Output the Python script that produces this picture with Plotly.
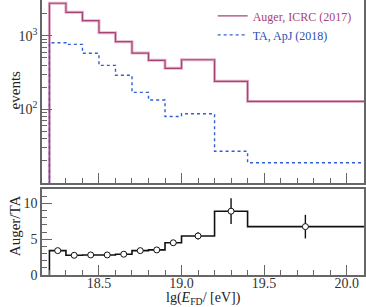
import plotly.graph_objects as go
from plotly.subplots import make_subplots

edges = [18.2, 18.3, 18.4, 18.5, 18.6, 18.7, 18.8, 18.9, 19.0, 19.2, 19.4, 20.2]
auger = [2760, 2080, 1600, 1100, 830, 582, 463, 361, 472, 240, 128]
ta = [804, 764, 577, 396, 290, 170, 134, 80, 87, 27, 18.8]
ratio_x = [18.25, 18.35, 18.45, 18.55, 18.65, 18.75, 18.85, 18.95, 19.1, 19.3, 19.75]
ratio = [3.4, 2.75, 2.8, 2.8, 2.9, 3.4, 3.5, 4.5, 5.45, 8.9, 6.75]
ratio_err = [0.12, 0.1, 0.1, 0.12, 0.13, 0.17, 0.2, 0.35, 0.5, 1.8, 1.65]
x_major = [18.5, 19.0, 19.5, 20.0]
x_labels = ["18.5", "19.0", "19.5", "20.0"]

serif = "Liberation Serif, Times New Roman, serif"
AUG = "#a8437a"
AUG_HALO = "#e2b3c9"
TAC = "#2f5fd0"
AXC = "#666666"

def step(values, base):
    xs = [edges[0]] + edges[:-1] + [edges[-1]]
    ys = [base] + values + [values[-1]]
    return xs, ys

fig = make_subplots(rows=2, cols=1, shared_xaxes=True, vertical_spacing=0.0,
                    row_heights=[0.66, 0.34])

xa, ya = step(auger, 1)
fig.add_trace(go.Scatter(x=xa, y=ya, mode="lines", line=dict(shape="hv", color=AUG_HALO, width=3.0),
                         showlegend=False, hoverinfo="skip"), row=1, col=1)
fig.add_trace(go.Scatter(x=xa, y=ya, mode="lines", line=dict(shape="hv", color=AUG, width=1.2),
                         name="<span style='color:#a8437a'>Auger, ICRC (2017)</span>"), row=1, col=1)
xt, yt = step(ta, 1)
fig.add_trace(go.Scatter(x=xt, y=yt, mode="lines", line=dict(shape="hv", color=TAC, width=1.4, dash="dot"),
                         name="<span style='color:#2a4fb0'>TA, ApJ (2018)</span>"), row=1, col=1)

xr, yr = step(ratio, 0)
fig.add_trace(go.Scatter(x=xr, y=yr, mode="lines", line=dict(shape="hv", color="#111111", width=1.6),
                         showlegend=False), row=2, col=1)
fig.add_trace(go.Scatter(x=ratio_x, y=ratio, mode="markers",
                         marker=dict(symbol="circle", size=6, color="white", line=dict(color="#111111", width=1)),
                         error_y=dict(type="data", array=ratio_err, color="#111111", width=0, thickness=1.4),
                         showlegend=False), row=2, col=1)

x_minor = [round(18.2 + 0.1 * i, 1) for i in range(19)]
axis_common = dict(showline=True, linecolor=AXC, linewidth=1.5, mirror=True, showgrid=False, zeroline=False,
                   automargin=False, ticks="inside", tickcolor=AXC,
                   tickfont=dict(family=serif, size=14, color="#333"))

fig.update_xaxes(range=[18.155, 20.105], tickmode="array", tickvals=x_major, ticktext=x_labels, ticklen=10,
                 minor=dict(tickmode="array", tickvals=x_minor, ticks="inside", ticklen=5, tickcolor=AXC),
                 **axis_common)
fig.update_xaxes(showticklabels=False, row=1, col=1)
fig.update_xaxes(ticklabelstandoff=-6, row=2, col=1)

y_minor = [m * 10 ** e for e in (1, 2, 3) for m in range(2, 10)]
fig.update_yaxes(type="log", range=[1.0, 3.485], tickmode="array", tickvals=[100, 1000],
                 ticktext=["10<sup>2</sup>", "10<sup>3</sup>"], ticklen=10,
                 minor=dict(tickmode="array", tickvals=y_minor, ticks="inside", ticklen=5, tickcolor=AXC),
                 row=1, col=1, **axis_common)
fig.update_yaxes(range=[0, 12], tickmode="array", tickvals=[0, 5, 10], ticktext=["0", "5", "10"], ticklen=10,
                 minor=dict(tickmode="array", tickvals=list(range(0, 13)), ticks="inside", ticklen=5, tickcolor=AXC),
                 row=2, col=1, **axis_common)

title_font = dict(family=serif, size=15, color="#222")
fig.add_annotation(text="events", xref="paper", yref="paper", x=-0.085, y=0.67, textangle=-90,
                   showarrow=False, font=title_font, xanchor="center", yanchor="middle")
fig.add_annotation(text="Auger/TA", xref="paper", yref="paper", x=-0.085, y=0.18, textangle=-90,
                   showarrow=False, font=title_font, xanchor="center", yanchor="middle")
fig.add_annotation(text="lg(<i>E</i><sub>FD</sub>/ [eV])", xref="paper", yref="paper", x=0.5, y=-0.084,
                   showarrow=False, font=dict(family=serif, size=14, color="#222"),
                   xanchor="center", yanchor="middle")

fig.update_layout(
    width=366, height=307,
    margin=dict(l=42, r=2, t=0, b=32, autoexpand=False),
    paper_bgcolor="white", plot_bgcolor="white",
    legend=dict(x=0.53, xanchor="left", y=0.995, yanchor="top", bgcolor="rgba(0,0,0,0)",
                font=dict(family=serif, size=12), tracegroupgap=0, itemwidth=30),
)
fig.layout.yaxis.domain = [0.3345, 1.0]
fig.layout.yaxis2.domain = [0.0, 0.3127]

fig.write_html("out.html", config={"displayModeBar": False},
               post_script="document.body.style.margin='0';document.body.style.overflow='hidden';")
